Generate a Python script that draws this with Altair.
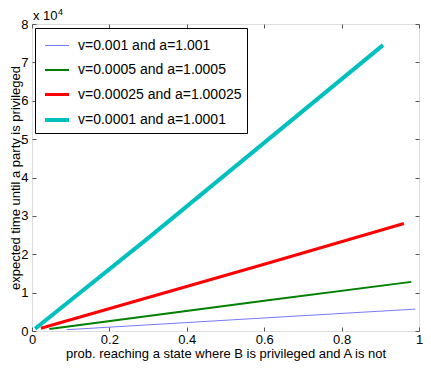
import altair as alt
import pandas as pd

# series labels
series = [
    "v=0.001 and a=1.001",
    "v=0.0005 and a=1.0005",
    "v=0.00025 and a=1.00025",
    "v=0.0001 and a=1.0001",
]
colors = ["#5555ff", "#008000", "#ff0000", "#00bfbf"]
widths = [0.8, 2, 3, 4]

blue_x = [0.09, 0.6, 0.99]
blue_y = [340, 3400, 5700]
green_x = [0.045, 0.6, 0.98]
green_y = [500, 7900, 12800]
red_x = [0.023, 0.6, 0.961]
red_y = [700, 17400, 28000]
cyan_x = [0.008, 0.3, 0.907]
cyan_y = [600, 24200, 74500]

x_ticks = [0, 0.2, 0.4, 0.6, 0.8, 1]
y_ticks = [0, 10000, 20000, 30000, 40000, 50000, 60000, 70000, 80000]

rows = []
for name, xs, ys in zip(series, [blue_x, green_x, red_x, cyan_x],
                        [blue_y, green_y, red_y, cyan_y]):
    for i, (a, b) in enumerate(zip(xs, ys)):
        rows.append({"series": name, "p": a, "t": b, "i": i})
df = pd.DataFrame(rows)

W, H = 387, 307
FONT = "Liberation Sans"
TICK = "#555"

xscale = alt.Scale(domain=[0, 1], nice=False, zero=False)
yscale = alt.Scale(domain=[0, 80000], nice=False)

lines = alt.Chart(df).mark_line(clip=False).encode(
    x=alt.X("p:Q", scale=xscale,
            axis=alt.Axis(values=x_ticks, format="~g", grid=False, domain=False,
                          ticks=True, tickSize=4, offset=-4, tickColor=TICK,
                          labelPadding=2, labelFontSize=13,
                          labelFont=FONT, labelColor="black", labelFlush=False,
                          labelOverlap=False,
                          title="prob. reaching a state where B is privileged and A is not",
                          titleFontSize=13, titleFont=FONT, titleFontWeight="normal",
                          titlePadding=1, titleColor="black")),
    y=alt.Y("t:Q", scale=yscale,
            axis=alt.Axis(values=y_ticks, labelExpr="datum.value/10000", grid=False,
                          domain=False, ticks=True, tickSize=4, offset=-4, tickColor=TICK,
                          labelPadding=4, labelFontSize=13,
                          labelFont=FONT, labelColor="black", labelFlush=False,
                          labelOverlap=False,
                          title="expected time until a party is privileged",
                          titleFontSize=13, titleFont=FONT, titleFontWeight="normal",
                          titleX=-21, titleY=H / 2, titleAngle=270,
                          titleAlign="center", titleBaseline="middle",
                          titleColor="black")),
    color=alt.Color("series:N", sort=series,
                    scale=alt.Scale(domain=series, range=colors),
                    legend=alt.Legend(orient="none", legendX=3, legendY=4, title=None,
                                      symbolType="stroke", symbolSize=576,
                                      symbolOffset=3,
                                      labelFontSize=14, labelFont=FONT, labelLimit=400,
                                      labelColor="black", padding=5, rowPadding=4,
                                      labelOffset=7, strokeColor="black",
                                      fillColor="white")),
    strokeWidth=alt.StrokeWidth("series:N", sort=series,
                                scale=alt.Scale(type="ordinal", domain=series, range=widths),
                                legend=alt.Legend(orient="none", legendX=3, legendY=4,
                                                  title=None, labelLimit=400)),
    order="i:Q",
)

# invisible copy that carries the inward ticks on the top and right edges
frame = alt.Chart(df).mark_line(strokeOpacity=0).encode(
    x=alt.X("p:Q", scale=xscale,
            axis=alt.Axis(orient="top", values=x_ticks, grid=False, domain=False,
                          ticks=True, tickSize=4, offset=-4, tickColor=TICK,
                          labels=False, title=None)),
    y=alt.Y("t:Q", scale=yscale,
            axis=alt.Axis(orient="right", values=y_ticks, grid=False, domain=False,
                          ticks=True, tickSize=4, offset=-4, tickColor=TICK,
                          labels=False, title=None)),
    detail="series:N",
    order="i:Q",
)

exp_base = alt.Chart(pd.DataFrame({"s": ["x 10"]})).mark_text(
    align="left", baseline="alphabetic", fontSize=13, font=FONT, color="black"
).encode(text="s:N", x=alt.value(1), y=alt.value(-4))
exp_sup = alt.Chart(pd.DataFrame({"s": ["4"]})).mark_text(
    align="left", baseline="alphabetic", fontSize=9, font=FONT, color="black"
).encode(text="s:N", x=alt.value(26), y=alt.value(-9))

chart = alt.layer(lines, frame, exp_base, exp_sup).resolve_axis(
    x="independent", y="independent"
).properties(
    width=W, height=H,
    autosize=alt.AutoSizeParams(type="none"),
    padding={"left": 24, "top": 16, "right": 4, "bottom": 30},
).configure_view(stroke="black", strokeWidth=1).configure(background="white")

chart.save("out.html", embed_options={"renderer": "svg", "actions": False})
